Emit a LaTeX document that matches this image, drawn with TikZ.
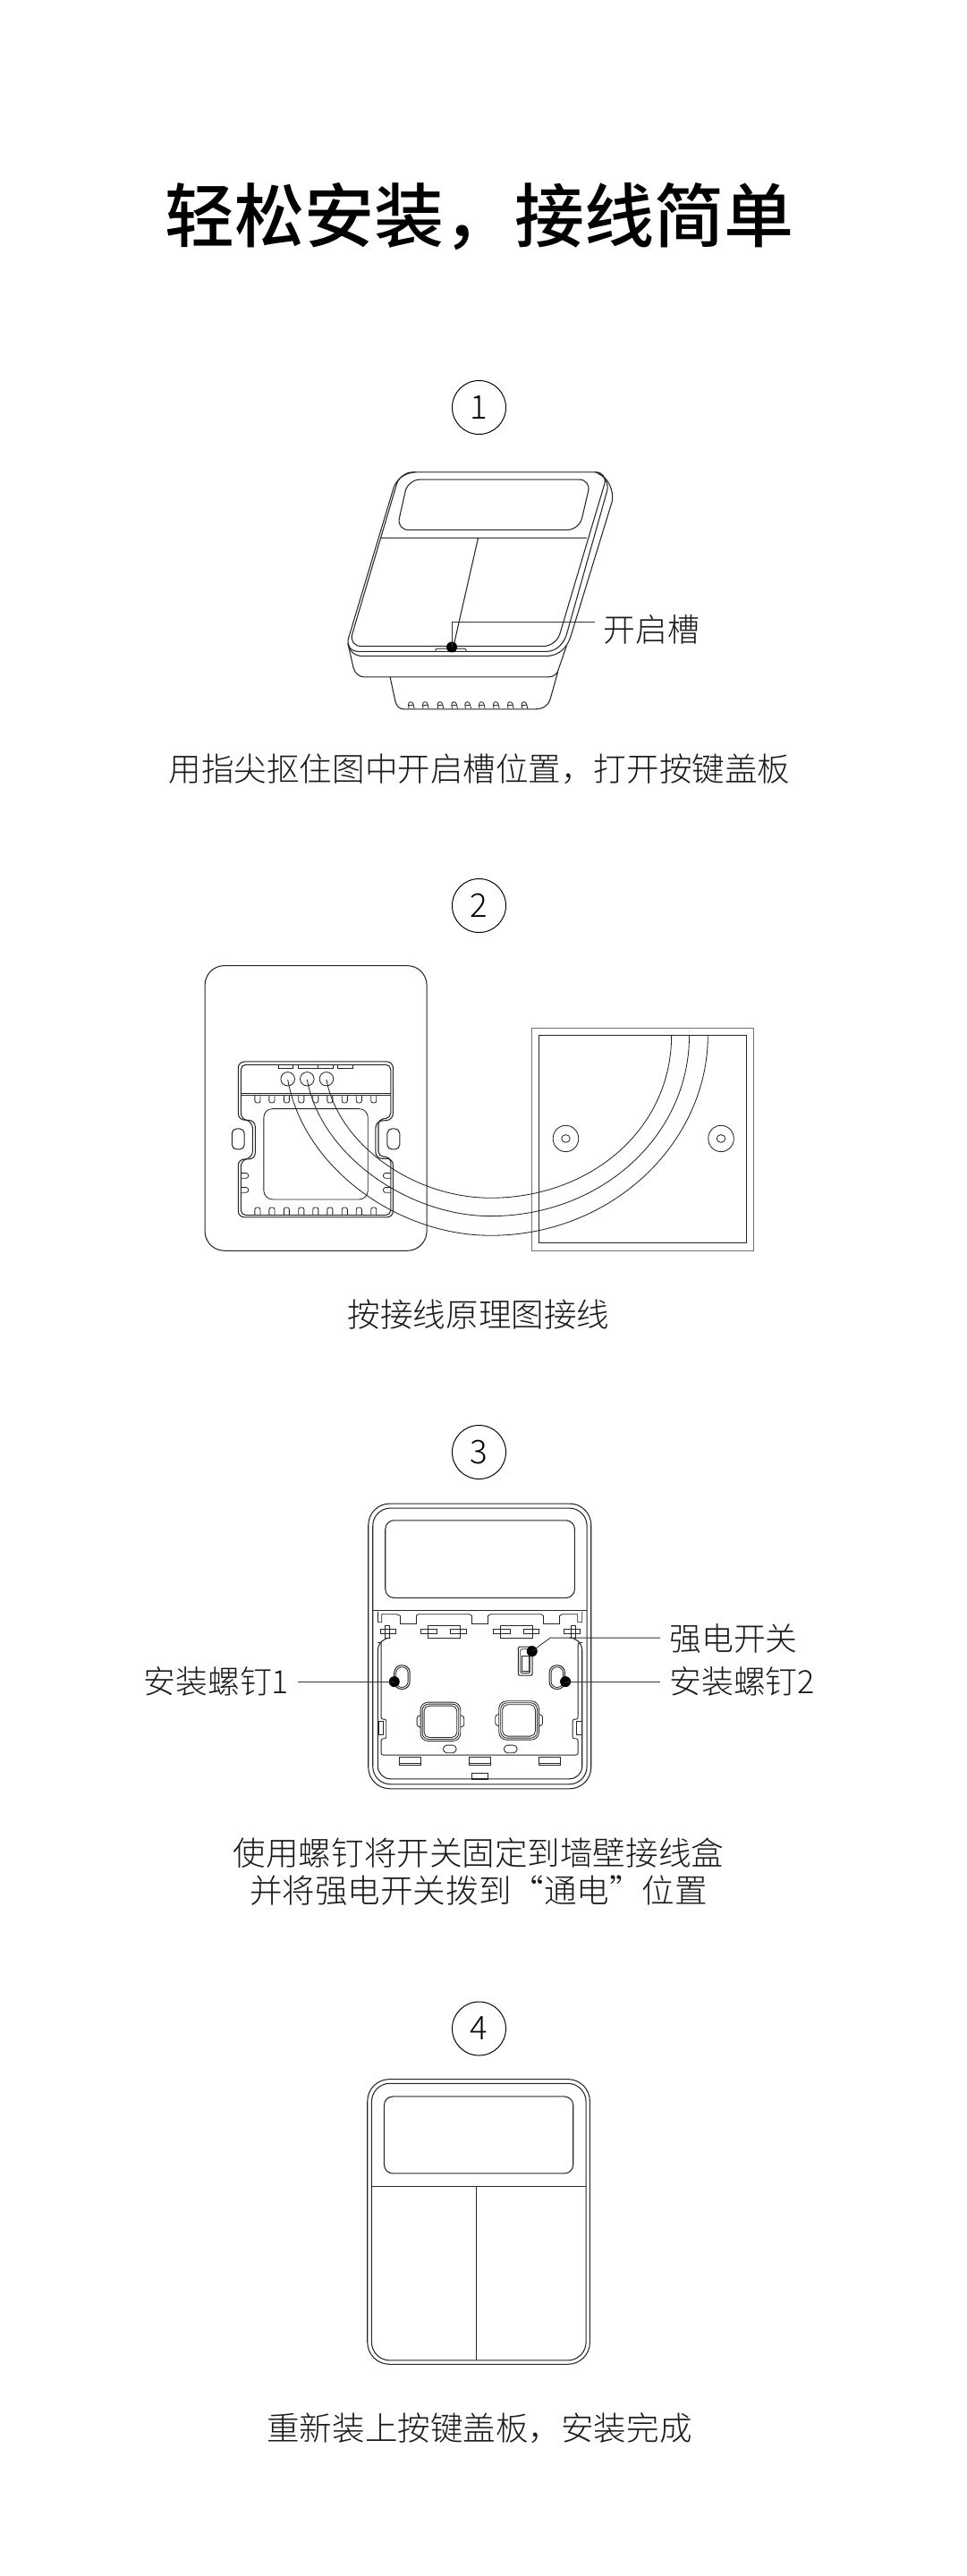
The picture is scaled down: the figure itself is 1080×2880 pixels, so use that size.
\documentclass[tikz,border=0pt]{standalone}
\usepackage{fontspec}
\setmainfont{Noto Sans CJK SC Light}[BoldFont={Noto Sans CJK SC Medium}]
\begin{document}
\begin{tikzpicture}[x=0.025cm,y=-0.025cm,
  ink/.style={line width=0.75pt,draw=black!85},
  thin ink/.style={line width=0.6pt,draw=black!85},
  gray ink/.style={line width=0.9pt,draw=black!55},
  lead/.style={line width=0.6pt,draw=black!80},
  zoomed/.style={x=0.00833333cm,y=-0.00833333cm},
  dot/.style={circle,fill=black,inner sep=0pt,minimum size=0.3cm},
  caption/.style={inner sep=0pt,align=center,font=\fontsize{26}{29.8}\selectfont,text=black!90},
  sidelabel/.style={inner sep=0pt,font=\fontsize{25.5}{29}\selectfont,text=black!90},
  num/.style={circle,draw=black,line width=0.7pt,minimum size=1.5cm,inner sep=0pt,font=\fontsize{26}{30}\selectfont},
  title/.style={inner sep=0pt,font=\fontsize{55.5}{60}\bfseries\selectfont,text=black}]
\useasboundingbox (0,0) rectangle (1080,2880);
\fill[white] (0,0) rectangle (1080,2880);

\node[title] (ttl) at (536,242) {轻松安装，接线简单};
\node[num] (n1) at (535.5,455.5) {1};
\node[num] (n2) at (535.5,1012.5) {2};
\node[num] (n3) at (535.5,1623.5) {3};
\node[num] (n4) at (535.5,2268) {4};
\node[caption] (c1) at (536,860) {用指尖抠住图中开启槽位置，打开按键盖板};
\node[caption] (c2) at (535,1470) {按接线原理图接线};
\node[caption] (c3) at (535,2093) {使用螺钉将开关固定到墙壁接线盒\\并将强电开关拨到“通电”位置};
\node[caption] (c4) at (536,2715) {重新装上按键盖板，安装完成};

% ---- step 1
\begin{scope}[zoomed,xshift=8.5cm,yshift=-12cm]
\draw[ink,rounded corners=10pt] (322,143) -- (1019,143) -- (845,727) -- (149,727) -- cycle;
\draw[ink] (375,143) .. controls (335,146) and (312,165) .. (300,195) -- (147,705) .. controls (143,725) and (155,745) .. (185,745) -- (810,745) .. controls (845,745) and (872,720) .. (882,680) -- (1016,205) .. controls (1022,180) and (1005,150) .. (975,143);
\draw[ink] (147,715) .. controls (150,745) and (170,760) .. (195,760) -- (810,760) .. controls (860,760) and (885,725) .. (895,690) -- (1033,240) .. controls (1038,205) and (1020,160) .. (985,148);
\draw[ink] (147,720) -- (165,800) .. controls (172,820) and (185,830) .. (200,830) -- (820,830) .. controls (835,830) and (845,822) .. (850,812) -- (880,725);
\draw[ink] (288,830) -- (305,910) .. controls (310,930) and (320,938) .. (335,938) -- (775,938) .. controls (800,938) and (820,925) .. (825,905) -- (850,815);
\foreach \b in {360,408,458,505,550,597,645,693,740}{
  \draw[thin ink] (\b-9,936) -- (\b-11,924) .. controls (\b-11,911) and (\b+3,910) .. (\b+6,922) -- (\b+9,936);
  \draw[thin ink] (\b-11,926) -- (\b+6,924);
}
\draw[ink,rounded corners=9.5pt] (348,168) -- (962,168) -- (922,337) -- (310,337) -- cycle;
\draw[ink] (258,365) -- (948,365);
\draw[ink] (583,365) -- (500,730);
\draw[thin ink,rounded corners=1.5pt] (440,745) -- (440,735) -- (543,735) -- (543,745);
\node[dot] (d1) at (495,730) {};
\coordinate (e1) at (975,645);
\node[sidelabel,anchor=west] (l1) at (1002,670) {开启槽};
\draw[lead] (d1.center) -- (495,645) -- (e1);
\end{scope}

% ---- step 2
\begin{scope}[zoomed,x=0.010823cm,xshift=5cm,yshift=-26.25cm]
\draw[ink,rounded corners=15.5pt] (67,88) rectangle (640,1044);
\draw[gray ink] (911,297) rectangle (1485,1044);
\draw[ink] (930,322) rectangle (1466,1018);
\foreach \cx in {999,1400}{
  \draw[thin ink] (\cx,668) ellipse (33 and 44);
  \draw[thin ink] (\cx,668) ellipse (11 and 13);
}
% plate
\draw[ink,rounded corners=5pt] (153,410) -- (553,410) -- (553,605) -- (508,610) -- (508,735) -- (553,735) -- (553,932) -- (153,932) -- (153,737) -- (197,737) -- (197,607) -- (153,605) -- cycle;
\draw[ink,rounded corners=4pt] (160,420) -- (547,420) -- (547,599) -- (515,603) -- (515,728) -- (547,730) -- (547,925) -- (160,925) -- (160,744) -- (190,728) -- (190,615) -- (160,599) -- cycle;
\draw[ink,rounded corners=3.7pt] (137,635) rectangle (169,704);
\draw[ink,rounded corners=3.7pt] (538,635) rectangle (570,704);
\draw[ink] (160,518) -- (547,518);
\draw[ink] (160,523) -- (547,523);
\foreach \ta/\tb in {257/295,308/358,360/398,410/450}
  \draw[thin ink] (\ta,420) -- (\ta,431) -- (\tb,431) -- (\tb,420);
\foreach \cx in {281,331,381} \draw[thin ink] (\cx,468) ellipse (18 and 23);
\foreach \sx in {203,240,278,316,353,390,428,465,503}{
  \draw[thin ink,rounded corners=1.6pt] (\sx-7,523) -- (\sx-7,548) -- (\sx+7,548) -- (\sx+7,523);
  \draw[thin ink,rounded corners=1.6pt] (\sx-7,925) -- (\sx-7,899) -- (\sx+7,899) -- (\sx+7,925);
}
\foreach \sy in {784,832}{
  \draw[thin ink,rounded corners=1.6pt] (160,\sy) -- (179,\sy) -- (179,\sy+17) -- (160,\sy+17);
  \draw[thin ink,rounded corners=1.6pt] (547,\sy) -- (528,\sy) -- (528,\sy+17) -- (547,\sy+17);
}
\draw[thin ink,rounded corners=7pt] (219,568) rectangle (488,872);
\foreach \cx in {281,331,381} \coordinate (t\cx) at (\cx,470);
\draw[thin ink] (t381) .. controls (410,680) and (600,867) .. (805,867) .. controls (1060,867) and (1272,640) .. (1272,322);
\draw[thin ink] (t331) .. controls (365,720) and (590,928) .. (805,928) .. controls (1090,928) and (1318,660) .. (1318,322);
\draw[thin ink] (t281) .. controls (320,760) and (560,993) .. (805,993) .. controls (1120,993) and (1366,680) .. (1366,322);
\end{scope}

% ---- step 3
\begin{scope}[zoomed,xshift=9.75cm,yshift=-41.5cm]
\draw[ink,rounded corners=17pt] (65,62) rectangle (812,1018);
\draw[ink,rounded corners=14pt] (80,77) rectangle (798,1003);
\draw[ink,rounded corners=7pt] (122,118) rectangle (757,378);
\draw[ink] (80,421) -- (798,421);
\draw[thin ink] (97,425) -- (97,460) -- (110,460) -- (110,433) -- (160,433) -- (172,438);
\draw[thin ink] (782,425) -- (782,460) -- (767,460) -- (767,433) -- (715,433) -- (707,438);
\draw[thin ink] (225,438) -- (232,433) -- (404,433) -- (412,438);
\draw[thin ink] (467,438) -- (475,433) -- (644,433) -- (652,438);
\foreach \ta in {172,412,652} \draw[thin ink] (\ta,438) -- (\ta,466) -- (\ta+55,466) -- (\ta+55,438);
% clips
\foreach \ca/\cb in {120/135,745/760,265/372,508/615} \draw[thin ink] (\ca,472) rectangle (\cb,512);
\foreach \ba/\bb in {105/157,722/775,242/295,340/393,485/540,585/638} \draw[thin ink] (\ba,484) rectangle (\bb,497);
% tray
\draw[ink,rounded corners=10pt] (135,512) -- (97,512) -- (97,985) -- (782,985) -- (782,512) -- (745,512);
\draw[thin ink] (108,528) -- (97,528);
\draw[thin ink,rounded corners=1.5pt] (108,528) -- (108,785) -- (125,785) -- (125,850) -- (108,850) -- (108,905) -- (768,905) -- (768,850) -- (750,850) -- (750,785) -- (768,785) -- (768,528) -- (782,528);
\draw[thin ink] (100,792) rectangle (116,836);
\draw[thin ink] (763,792) rectangle (780,836);
\foreach \ta in {170,404,637}{
  \draw[thin ink] (\ta,913) rectangle (\ta+72,940);
  \draw[thin ink] (\ta,932) -- (\ta+72,932);
}
\draw[thin ink] (412,985) -- (412,967) -- (467,967) -- (467,985);
\draw[line width=1.1pt,draw=black!85] (412,985) -- (467,985);
\foreach \ta in {316,520} \draw[thin ink,rounded corners=3pt] (\ta,898) -- (\ta,872) -- (\ta+44,872) -- (\ta+44,898) -- cycle;
% screw slots
\foreach \sa in {152,672}{
  \draw[ink,rounded corners=5.8pt] (\sa,604) rectangle (\sa+52,684);
  \draw[thin ink,rounded corners=4.6pt] (\sa+6,610) rectangle (\sa+46,678);
}
% switch
\draw[ink,rounded corners=1pt] (568,542) rectangle (615,638);
\draw[thin ink,rounded corners=1pt] (575,550) rectangle (608,630);
\draw[thin ink] (580,572) rectangle (603,625);
% square buttons
\foreach \qx/\qy in {240/728,503/724}{
  \draw[thin ink,rounded corners=6pt] (\qx,\qy) rectangle (\qx+134,\qy+130);
  \draw[thin ink,rounded corners=5pt] (\qx+6,\qy+6) rectangle (\qx+128,\qy+124);
  \draw[thin ink,rounded corners=4pt] (\qx+12,\qy+12) rectangle (\qx+122,\qy+118);
  \draw[thin ink,rounded corners=1.5pt] (\qx,\qy+44) -- (\qx-12,\qy+48) -- (\qx-12,\qy+80) -- (\qx,\qy+84);
  \draw[thin ink,rounded corners=1.5pt] (\qx+134,\qy+44) -- (\qx+146,\qy+48) -- (\qx+146,\qy+80) -- (\qx+134,\qy+84);
}
\node[dot] (d2) at (152,659) {};
\node[dot] (d3) at (726,659) {};
\node[dot] (d4) at (614,557) {};
\node[sidelabel,anchor=east] (l2) at (-200,657) {安装螺钉1};
\node[sidelabel,anchor=west] (l3) at (1074,657) {安装螺钉2};
\node[sidelabel,anchor=west] (l4) at (1074,516) {强电开关};
\coordinate (e2) at (-171,659);
\coordinate (e3) at (1044,659);
\coordinate (e4) at (1044,512);
\draw[lead] (d2.center) -- (e2);
\draw[lead] (d3.center) -- (e3);
\draw[lead] (d4.center) -- (675,512) -- (e4);
\end{scope}

% ---- step 4
\begin{scope}[zoomed,xshift=9.75cm,yshift=-57.75cm]
\draw[ink,rounded corners=17.5pt] (62,42) rectangle (808,998);
\draw[ink,rounded corners=14.5pt] (76,56) rectangle (795,985);
\draw[ink,rounded corners=7pt] (118,100) rectangle (752,358);
\draw[ink] (76,403) -- (795,403);
\draw[ink] (428,403) -- (428,985);
\end{scope}
\end{tikzpicture}
\end{document}
